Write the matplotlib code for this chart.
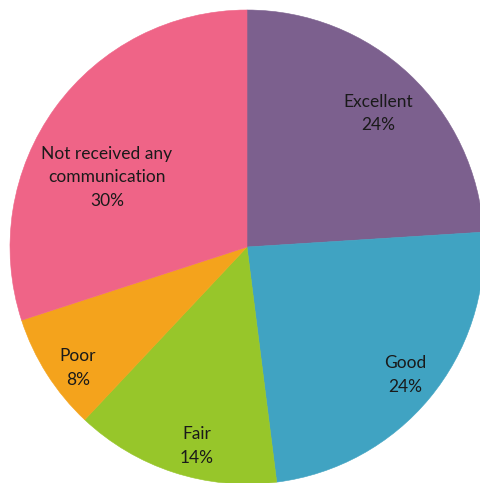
import numpy as np
import matplotlib
matplotlib.use("Agg")
import matplotlib.pyplot as plt

categories = ["Excellent", "Good", "Fair", "Poor", "Not received any\ncommunication"]
shares = [24, 24, 14, 8, 30]
colors = ["#7C608E", "#40A3C2", "#97C62A", "#F4A31C", "#EF6487"]

# label placement: fraction of the radius and angular nudge (degrees) from the wedge middle
label_radius = [0.79, 0.858, 0.866, 0.877, 0.66]
label_nudge = [-1.2, 0.6, 3.9, 3.2, 9.6]

W, H = 480, 483
R = 237.0
cx, cy = 247.0, 247.0  # pie centre in pixels from the top-left

fig = plt.figure(figsize=(W / 100, H / 100), dpi=100)
ax = fig.add_axes([0, 0, 1, 1])

wedges, _ = ax.pie(shares, colors=colors, startangle=90, counterclock=False,
                   radius=1.0, wedgeprops=dict(linewidth=0))
for w in wedges:
    w.set_edgecolor(w.get_facecolor())
    w.set_linewidth(0.4)

ax.set_xlim(-cx / R, (W - cx) / R)
ax.set_ylim(-(H - cy) / R, cy / R)
ax.set_aspect("equal")
ax.axis("off")

for w, name, val, rf, dn in zip(wedges, categories, shares, label_radius, label_nudge):
    mid = np.deg2rad((w.theta1 + w.theta2) / 2 + dn)
    x, y = rf * np.cos(mid), rf * np.sin(mid)
    ax.text(x, y, f"{name}\n{val}%", ha="center", va="center",
            fontsize=12.5, family=["Lato", "DejaVu Sans"], color="#1a1a1a",
            linespacing=1.55)

fig.savefig("out.png", dpi=100, facecolor="white")
